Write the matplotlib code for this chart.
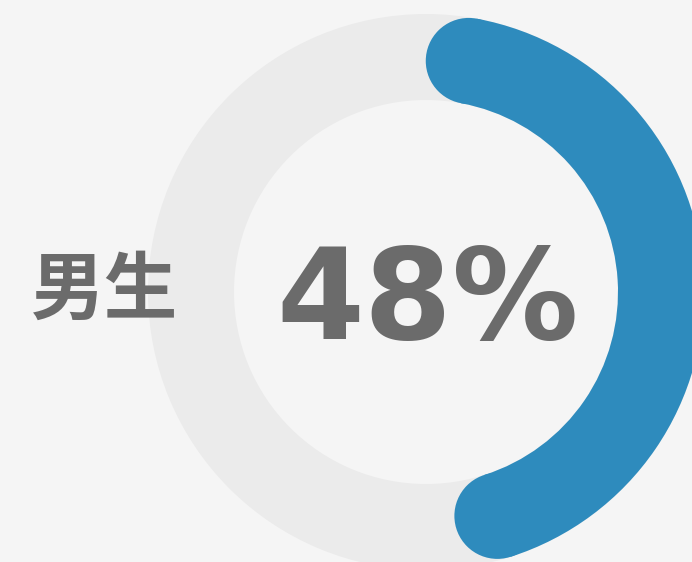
import numpy as np
import matplotlib
matplotlib.use("Agg")
import matplotlib.pyplot as plt
from matplotlib.patches import Wedge, Circle

# data
label = "男生"
percent = 48

BG = "#f5f5f5"
TRACK = "#ebebeb"
BLUE = "#2e8bbd"
TEXT = "#6b6b6b"

W, H = 692, 562
cx, cy = 426, H - 292      # ring centre (y measured from bottom)
r_out, thick = 278, 86
r_mid = r_out - thick / 2

fig = plt.figure(figsize=(W / 100, H / 100), dpi=100, facecolor=BG)
ax = fig.add_axes([0, 0, 1, 1])
ax.set_xlim(0, W)
ax.set_ylim(0, H)
ax.set_aspect("equal")
ax.axis("off")
ax.set_facecolor(BG)

# background track
ax.add_patch(Wedge((cx, cy), r_out, 0, 360, width=thick, color=TRACK, lw=0))

# value arc, clockwise from 12 o'clock, rounded ends kept inside the span
span = percent / 100 * 360
cap = np.degrees((thick / 2) / r_mid)
a_start = 90 - cap
a_end = 90 - span + cap
ax.add_patch(Wedge((cx, cy), r_out, a_end, a_start, width=thick, color=BLUE, lw=0))
for a in (a_start, a_end):
    t = np.radians(a)
    ax.add_patch(Circle((cx + r_mid * np.cos(t), cy + r_mid * np.sin(t)),
                        thick / 2, color=BLUE, lw=0))

ax.text(cx + 2, cy + 1, f"{percent}%", ha="center", va="center_baseline",
        fontsize=91, fontweight="bold", family="DejaVu Sans",
        color=TEXT)
ax.text(105, H - 292, label, ha="center", va="center",
        fontsize=53, fontweight="bold",
        family=["Noto Sans CJK SC", "DejaVu Sans"], color=TEXT)

fig.savefig("out.png", dpi=100, facecolor=BG)
